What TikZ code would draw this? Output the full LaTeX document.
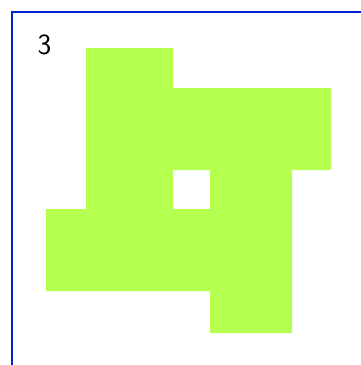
\documentclass[tikz,border=0pt]{standalone}
\usepackage{tikz}
\definecolor{leaf}{HTML}{B5FF50}
\definecolor{frame}{HTML}{0022CC}
\tikzset{
  piece/.style={fill=leaf, draw=none, even odd rule},
  border/.style={draw=frame, line width=1.6pt},
  tag/.style={font=\sffamily\fontsize{22}{26}\selectfont, inner sep=0pt},
}
\begin{document}
\begin{tikzpicture}[x=0.75pt, y=-0.75pt]
  \useasboundingbox (0,0) rectangle (361,365);
  \draw[border] (12,380) -- (12,12) -- (375,12);
  % polyomino with one square hole
  \fill[piece] (86,48) -- (173,48) -- (173,88) -- (331,88) -- (331,170)
    -- (292,170) -- (292,333) -- (210,333) -- (210,291) -- (46,291)
    -- (46,209) -- (86,209) -- cycle
    (173,170) rectangle (210,209);
  \node[tag] (num) at (44.5,45) {3};
\end{tikzpicture}
\end{document}
